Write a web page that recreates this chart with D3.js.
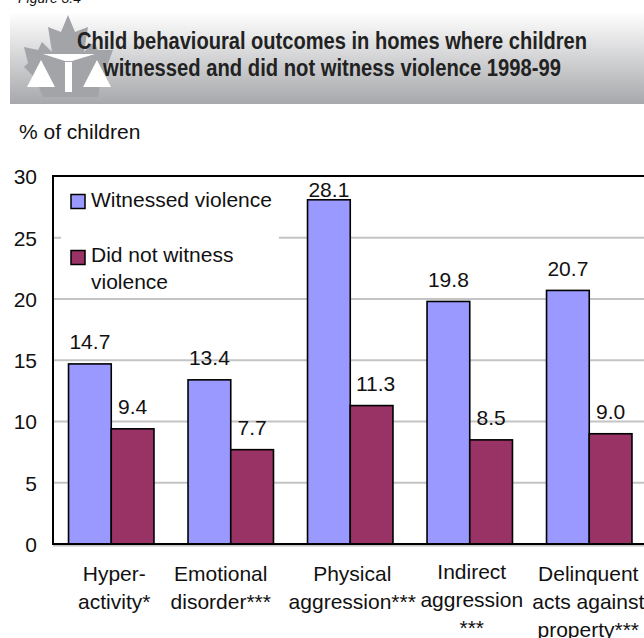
<!DOCTYPE html>
<html><head><meta charset="utf-8">
<script src="https://cdn.jsdelivr.net/npm/d3@7"></script>
<style>html,body{margin:0;padding:0;background:#fff}svg{display:block}text{font-family:"Liberation Sans",Arial,sans-serif;fill:#111}</style>
</head><body><svg id="c" width="644" height="638"></svg>
<script>
const categories=[["Hyper-","activity*"],["Emotional","disorder***"],["Physical","aggression***"],["Indirect","aggression","***"],["Delinquent","acts against","property***"]];
const witnessed=[14.7,13.4,28.1,19.8,20.7];
const notWitnessed=[9.4,7.7,11.3,8.5,9.0];
const legendLines=[["Witnessed violence"],["Did not witness","violence"]];
const yTicks=[0,5,10,15,20,25,30];
const titleLines=["Child behavioural outcomes in homes where children","witnessed and did not witness violence 1998-99"];
const yLabel="% of children";

const svg=d3.select("#c");
const defs=svg.append("defs");
const g=defs.append("linearGradient").attr("id","hd").attr("x1",0).attr("x2",0).attr("y1",0).attr("y2",1);
g.append("stop").attr("offset",0).attr("stop-color","#ffffff");
g.append("stop").attr("offset",1).attr("stop-color","#a7a8ab");
svg.append("text").text("Figure 3.4").attr("x",18).attr("y",3).attr("font-size",14).style("font-style","italic");
svg.append("rect").attr("x",10).attr("y",12).attr("width",634).attr("height",92).attr("fill","url(#hd)");
svg.append("path").attr("fill","#a3a4a8").attr("d","M68,15 L61,32 L48,27 L52,52 L42,42 L38,50 L24,47 L28,63 L24,67 L35,78 L43,97 L98,97 L100,85 L113,50 L98,50 L94,42 L84,52 L88,27 L75,32 Z");
svg.append("path").attr("fill","#fff").attr("d","M43,54 L95,54 L72,61 L65,61 Z M65,62 L72,62 L72,92 L65,92 Z M27,87 L41,60 L55,87 Z M83,87 L97,60 L111,87 Z");
const titleBox=[[332,49,510],[332,76,458]];
svg.selectAll("text.title").data(titleLines).join("text").attr("class","title")
  .attr("x",(d,i)=>titleBox[i][0]).attr("y",(d,i)=>titleBox[i][1]).attr("text-anchor","middle")
  .attr("textLength",(d,i)=>titleBox[i][2]).attr("lengthAdjust","spacingAndGlyphs")
  .text(d=>d).style("font-weight","bold").style("font-size","23px").style("fill","#222");
const FS=21;
svg.append("text").text(yLabel).attr("x",19).attr("y",139).attr("font-size",FS);

const L=53,R=644,T=176,B=544;
const y=d3.scaleLinear().domain([0,30]).range([B,176.5]);
const x0=d3.scaleBand().domain(d3.range(categories.length)).range([51.5,649]).paddingInner(0.285).paddingOuter(0.1425);
const x1=d3.scaleBand().domain([0,1]).range([0,x0.bandwidth()]);

const gridY=yTicks.filter(t=>t<30);
svg.selectAll("line.grid").data(gridY).join("line").attr("class","grid")
 .attr("x1",L).attr("x2",R).attr("y1",d=>y(d)+(d?0:1.5)).attr("y2",d=>y(d)+(d?0:1.5)).attr("stroke","#c4c4c4").attr("stroke-width",2);
svg.append("rect").attr("x",61).attr("y",178).attr("width",218).attr("height",119).attr("fill","#fff");

const colors=["#9999ff","#993366"];
[witnessed,notWitnessed].forEach((vals,s)=>{
  svg.selectAll("rect.s"+s).data(vals).join("rect").attr("class","s"+s)
   .attr("x",(d,i)=>x0(i)+x1(s)).attr("width",x1.bandwidth()).attr("y",d=>y(d)).attr("height",d=>B-y(d))
   .attr("fill",colors[s]).attr("stroke","#000").attr("stroke-width",1.6);
  svg.selectAll("text.v"+s).data(vals).join("text").attr("class","v"+s)
   .attr("x",(d,i)=>x0(i)+x1(s)+x1.bandwidth()/2+(s===1&&i===2?4:0))
   .attr("y",d=>y(d)-(d===28.1?3:14.5)).attr("text-anchor","middle").attr("font-size",FS)
   .text(d=>d.toFixed(1));
});
svg.append("path").attr("fill","none").attr("stroke","#000").attr("stroke-width",2).attr("d",`M${R},${T}H${L}V${B}H${R}`);

const axis=d3.axisLeft(y).tickValues(yTicks).tickSize(0).tickPadding(0);
const ag=svg.append("g").attr("transform","translate(37,0)").call(axis);
ag.select(".domain").remove();
ag.selectAll("text").attr("font-size",FS).style("font-family","'Liberation Sans'").attr("fill","#111").attr("dy","0.35em");

const labelShift=[3,-10,2,2,-1];
const lineY=[[581,609],[581,609],[581,609],[579,607,635],[581,609,637]];
categories.forEach((lines,i)=>{
  lines.forEach((t,j)=>{
    svg.append("text").text(t).attr("x",x0(i)+x0.bandwidth()/2+labelShift[i]).attr("y",lineY[i][j]).attr("text-anchor","middle").attr("font-size",FS);
  });
});

const legendSwatchY=[194.5,250.5],legendTextY=[207,262];
legendLines.forEach((lines,i)=>{
  svg.append("rect").attr("x",71).attr("y",legendSwatchY[i]).attr("width",14).attr("height",14).attr("fill",colors[i]).attr("stroke","#000").attr("stroke-width",1.5);
  lines.forEach((t,k)=>svg.append("text").text(t).attr("x",91).attr("y",legendTextY[i]+k*27).attr("font-size",FS));
});
</script></body></html>
